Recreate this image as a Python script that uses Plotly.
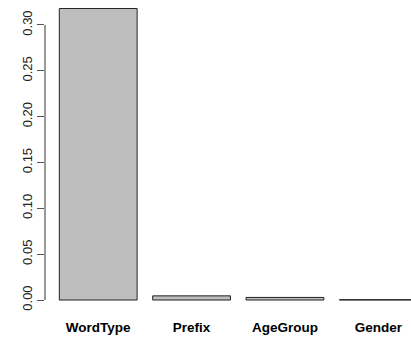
import plotly.graph_objects as go

categories = ["WordType", "Prefix", "AgeGroup", "Gender"]
values = [0.318, 0.0045, 0.0028, 0.0003]
tick_vals = [0.00, 0.05, 0.10, 0.15, 0.20, 0.25, 0.30]
tick_text = ["0.00", "0.05", "0.10", "0.15", "0.20", "0.25", "0.30"]

# R barplot positions: width 1, space 0.2
positions = [0.7 + 1.2 * i for i in range(len(categories))]

fig = go.Figure()
fig.add_trace(go.Bar(
    x=positions, y=values, width=1.0,
    marker=dict(color="#BEBEBE", line=dict(color="#222222", width=1)),
    hoverinfo="skip",
))

W, H = 411, 340
ml, mr, mt, mb = 45, 0, 0, 28
px_per_unit_x = 77.8
px_per_unit_y = 916.7
x0 = 0.2 - 0.184
x1 = x0 + (W - ml - mr) / px_per_unit_x
y0 = -12 / px_per_unit_y
y1 = 300 / px_per_unit_y

fig.update_layout(
    width=W, height=H,
    margin=dict(l=ml, r=mr, t=mt, b=mb, autoexpand=False),
    plot_bgcolor="white", paper_bgcolor="white",
    showlegend=False,
    font=dict(family="Liberation Sans, Arial, sans-serif", color="black"),
    xaxis=dict(
        range=[x0, x1], tickmode="array", tickvals=positions,
        ticktext=["<b>%s</b>" % c for c in categories],
        ticks="outside", ticklen=3, tickcolor="white",
        tickfont=dict(size=13.5), showgrid=False, zeroline=False, showline=False,
        automargin=False,
    ),
    yaxis=dict(
        range=[y0, y1], tickmode="array", tickvals=tick_vals, ticktext=tick_text,
        tickangle=-90, ticks="outside", ticklen=7, tickcolor="#555555", tickwidth=1.2,
        tickfont=dict(size=13, color="#222222"), showgrid=False, zeroline=False, showline=False,
        automargin=False,
    ),
)
# R-style axis line spanning only the tick range
fig.add_shape(type="line", xref="paper", yref="y", x0=0, x1=0,
              y0=tick_vals[0], y1=tick_vals[-1],
              line=dict(color="#555555", width=1.2))

fig.write_html(
    "out.html",
    config={"displayModeBar": False},
    post_script="document.body.style.margin='0';document.body.style.overflow='hidden';",
)
